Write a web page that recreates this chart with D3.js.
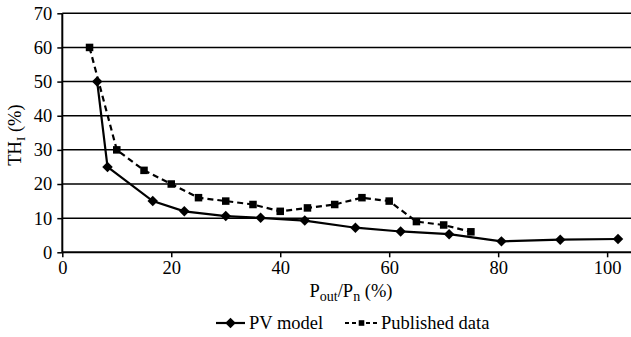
<!DOCTYPE html>
<html><head><meta charset="utf-8">
<script src="https://cdn.jsdelivr.net/npm/d3@7"></script>
<style>body{margin:0;background:#fff}svg{display:block}</style>
</head><body><svg id="c" width="631" height="337" font-family="Liberation Serif"></svg>
<script>
const pvX = [6.4, 8.3, 16.6, 22.4, 30.0, 36.4, 44.5, 53.8, 62.1, 71.0, 80.6, 91.4, 102.0];
const pvY = [50, 25, 15, 12, 10.6, 10.1, 9.3, 7.2, 6.1, 5.3, 3.2, 3.7, 3.9];
const pubX = [5, 10, 15, 20, 25, 30, 35, 40, 45, 50, 55, 60, 65, 70, 75];
const pubY = [60, 30, 24, 20, 16, 15, 14, 12, 13, 14, 16, 15, 9, 8, 6];
const xTicks = [0, 20, 40, 60, 80, 100];
const yTicks = [0, 10, 20, 30, 40, 50, 60, 70];
const seriesNames = ["PV model", "Published data"];
const FONT = "Liberation Serif";
const FS = 18.5;

const svg = d3.select("#c");
const x = d3.scaleLinear().domain([0, 104.2]).range([62.3, 630]);
const y = d3.scaleLinear().domain([0, 70]).range([252.3, 13.3]);

// gridlines
svg.append("g").selectAll("line").data(yTicks.filter(d => d > 0)).join("line")
  .attr("x1", x(0)).attr("x2", 631).attr("y1", d => y(d)).attr("y2", d => y(d))
  .attr("stroke", "#000").attr("stroke-width", 1.5);

// y axis
const ya = svg.append("g").attr("transform", `translate(${x(0)},0)`)
  .call(d3.axisLeft(y).tickValues(yTicks).tickSize(5).tickPadding(5));
ya.attr("font-family", FONT);
ya.select(".domain").remove();
ya.append("line").attr("y1", y(0)).attr("y2", y(70)).attr("stroke", "#000").attr("stroke-width", 2);
ya.selectAll(".tick line").attr("stroke-width", 1.5);
ya.selectAll("text").attr("font-size", FS).attr("font-family", FONT).attr("fill", "#000");

// x axis
const xa = svg.append("g").attr("transform", `translate(0,${y(0)})`)
  .call(d3.axisBottom(x).tickValues(xTicks).tickSize(5).tickPadding(4).tickFormat(d3.format("d")));
xa.attr("font-family", FONT);
xa.select(".domain").remove();
xa.append("line").attr("x1", x(0)).attr("x2", 631).attr("stroke", "#000").attr("stroke-width", 2);
xa.selectAll(".tick line").attr("stroke-width", 1.5);
xa.selectAll("text").attr("font-size", FS).attr("font-family", FONT).attr("fill", "#000");

// lines
const pv = pvX.map((d, i) => [d, pvY[i]]);
const pub = pubX.map((d, i) => [d, pubY[i]]);
const line = d3.line().x(d => x(d[0])).y(d => y(d[1]));
svg.append("path").datum(pub).attr("d", line).attr("fill", "none").attr("stroke", "#000")
  .attr("stroke-width", 2.2).attr("stroke-dasharray", "6,4");
svg.append("path").datum(pv).attr("d", line).attr("fill", "none").attr("stroke", "#000")
  .attr("stroke-width", 2.2);

const diamond = d3.symbol().type(d3.symbolDiamond2).size(70);
const square = d3.symbol().type(d3.symbolSquare2).size(72);
svg.append("g").selectAll("path").data(pv).join("path")
  .attr("transform", d => `translate(${x(d[0])},${y(d[1])})`)
  .attr("d", diamond).attr("fill", "#000");
svg.append("g").selectAll("path").data(pub).join("path")
  .attr("transform", d => `translate(${x(d[0])},${y(d[1])})`)
  .attr("d", square).attr("fill", "#000");

// axis titles
const xt = svg.append("text").attr("x", 351).attr("y", 297).attr("text-anchor", "middle")
  .attr("font-size", FS).attr("font-family", FONT);
xt.append("tspan").text("P");
xt.append("tspan").attr("font-size", 14).attr("dy", 4).text("out");
xt.append("tspan").attr("dy", -4).text("/P");
xt.append("tspan").attr("font-size", 14).attr("dy", 4).text("n");
xt.append("tspan").attr("dy", -4).text(" (%)");

const yt = svg.append("text").attr("transform", "translate(21,135) rotate(-90)").attr("text-anchor", "middle")
  .attr("font-size", FS).attr("font-family", FONT);
yt.append("tspan").text("TH");
yt.append("tspan").attr("font-size", 13).attr("dy", 4).text("I");
yt.append("tspan").attr("dy", -4).text(" (%)");

// legend
const lg = svg.append("g").attr("font-family", FONT).attr("font-size", FS);
lg.append("line").attr("x1", 216).attr("x2", 245).attr("y1", 323).attr("y2", 323).attr("stroke", "#000").attr("stroke-width", 2.2);
lg.append("path").attr("transform", "translate(230.5,323)").attr("d", diamond).attr("fill", "#000");
lg.append("text").attr("x", 249).attr("y", 329).text(seriesNames[0]);
lg.append("line").attr("x1", 345).attr("x2", 378).attr("y1", 323).attr("y2", 323).attr("stroke", "#000").attr("stroke-width", 2.2).attr("stroke-dasharray", "4,3");
lg.append("path").attr("transform", "translate(361.5,323)").attr("d", d3.symbol().type(d3.symbolSquare2).size(40)).attr("fill", "#000");
lg.append("text").attr("x", 381).attr("y", 329).text(seriesNames[1]);
</script></body></html>
